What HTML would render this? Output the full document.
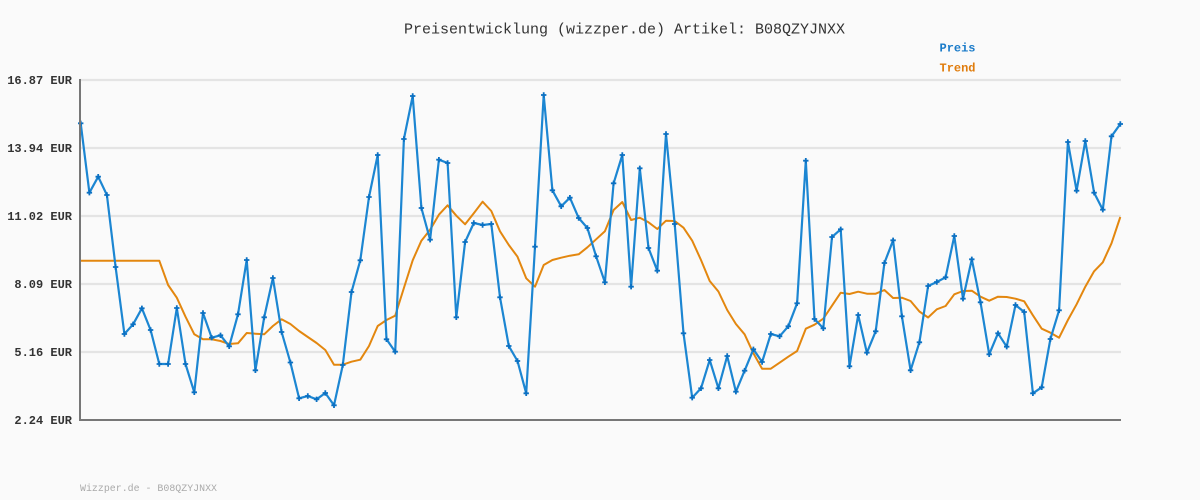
<!DOCTYPE html>
<html><head><meta charset="utf-8"><style>
html,body{margin:0;padding:0;background:#fafafa;}
svg{display:block;}
</style></head><body>
<svg width="1200" height="500" viewBox="0 0 1200 500" xmlns="http://www.w3.org/2000/svg">
<defs>
<marker id="m" markerUnits="userSpaceOnUse" markerWidth="8" markerHeight="8" refX="4" refY="4" viewBox="0 0 8 8">
<path d="M1.3,4 L6.7,4 M4,1.3 L4,6.7" stroke="#0b70c2" stroke-width="1.8" fill="none"/>
</marker>
</defs>
<rect width="1200" height="500" fill="#fafafa"/>
<g stroke="#e4e4e4" stroke-width="2.2">
<line x1="80" y1="80" x2="1121" y2="80"/>
<line x1="80" y1="148" x2="1121" y2="148"/>
<line x1="80" y1="216" x2="1121" y2="216"/>
<line x1="80" y1="284" x2="1121" y2="284"/>
<line x1="80" y1="352" x2="1121" y2="352"/>
</g>
<g font-family="Liberation Mono, monospace" font-weight="bold" font-size="12" fill="#333" text-anchor="end">
<text x="72" y="84">16.87 EUR</text>
<text x="72" y="152">13.94 EUR</text>
<text x="72" y="220">11.02 EUR</text>
<text x="72" y="288">8.09 EUR</text>
<text x="72" y="356">5.16 EUR</text>
<text x="72" y="424">2.24 EUR</text>
</g>
<text x="404" y="33.3" font-family="Liberation Mono, monospace" font-size="14.7" fill="#333" textLength="441" lengthAdjust="spacingAndGlyphs">Preisentwicklung (wizzper.de) Artikel: B08QZYJNXX</text>
<text x="939.5" y="51.3" font-family="Liberation Mono, monospace" font-weight="bold" font-size="12" fill="#1a7bc9">Preis</text>
<text x="939.5" y="71.3" font-family="Liberation Mono, monospace" font-weight="bold" font-size="12" fill="#e07c0c">Trend</text>
<text x="80" y="491" font-family="Liberation Mono, monospace" font-size="10" fill="#aaa" textLength="137" lengthAdjust="spacingAndGlyphs">Wizzper.de - B08QZYJNXX</text>

<polyline fill="none" stroke="#e3870f" stroke-width="2" stroke-linejoin="round" points="80.7,260.7 89.4,260.7 98.2,260.7 106.9,260.7 115.6,260.7 124.4,260.7 133.1,260.7 141.9,260.7 150.6,260.7 159.3,260.7 168.1,285 176.8,297.7 185.5,316.7 194.3,334.3 203,339.3 211.7,339.3 220.5,341 229.2,344 238,343.3 246.7,333 255.4,333.7 264.2,334.3 272.9,326 281.6,319.3 290.4,324 299.1,331 307.8,337 316.6,343 325.3,350 334,364.7 342.8,364.7 351.5,361.7 360.3,359.7 369,346 377.7,326 386.5,320 395.2,315.7 403.9,288 412.7,260.3 421.4,240.7 430.1,229.7 438.9,214.7 447.6,205.3 456.3,215.7 465.1,224.3 473.8,213.3 482.6,201.7 491.3,211 500,231.3 508.8,245 517.5,256.7 526.2,278.3 535,286.7 543.7,265 552.4,260 561.2,257.7 569.9,255.7 578.7,254.3 587.4,247.3 596.1,239.3 604.9,231.3 613.6,210 622.3,202 631.1,220 639.8,217.7 648.5,222.3 657.3,229 666,220.7 674.7,221 683.5,227.7 692.2,240.7 701,260 709.7,281 718.4,291.5 727.2,310 735.9,324 744.6,334.3 753.4,353.3 762.1,368.7 770.8,368.7 779.6,362.7 788.3,356.7 797.1,351 805.8,328.7 814.5,324.7 823.3,318.7 832,305.7 840.7,292.7 849.5,294 858.2,291.7 866.9,293.7 875.7,293.7 884.4,290 893.1,298 901.9,297.7 910.6,301 919.4,311.5 928.1,317.5 936.8,309.3 945.6,306 954.3,294.3 963,291 971.8,290.7 980.5,296.7 989.2,300.7 998,296.7 1006.7,297 1015.5,298.7 1024.2,301.3 1032.9,315.3 1041.7,328.7 1050.4,332.7 1059.1,337.7 1067.9,320 1076.6,304.3 1085.3,286.7 1094.1,271.3 1102.8,262.3 1111.5,243.3 1120.3,217"/>

<polyline fill="none" stroke="#1c86d2" stroke-width="2.2" stroke-linejoin="round" marker-start="url(#m)" marker-mid="url(#m)" marker-end="url(#m)" points="80.7,123.3 89.4,192.7 98.2,176.7 106.9,195 115.6,267 124.4,334 133.1,324.3 141.9,308.3 150.6,330 159.3,364 168.1,364 176.8,308 185.5,364 194.3,392.3 203,313 211.7,337.7 220.5,335.3 229.2,346.3 238,314.3 246.7,260 255.4,370.3 264.2,317.3 272.9,278 281.6,332 290.4,362.5 299.1,398.3 307.8,396 316.6,399.3 325.3,393 334,405.3 342.8,365 351.5,292 360.3,260.3 369,197 377.7,155 386.5,339.3 395.2,351.7 403.9,139 412.7,96 421.4,208 430.1,239.7 438.9,159.7 447.6,163 456.3,317.3 465.1,242 473.8,223 482.6,225 491.3,224 500,297.3 508.8,346 517.5,361 526.2,393.3 535,246.7 543.7,95 552.4,190.3 561.2,206.3 569.9,197.7 578.7,218 587.4,228 596.1,256.3 604.9,282.3 613.6,183.3 622.3,155 631.1,286.7 639.8,168.3 648.5,248 657.3,270.7 666,134 674.7,224 683.5,333.3 692.2,397.7 701,388.3 709.7,360 718.4,388.3 727.2,356 735.9,391.7 744.6,370.7 753.4,349.3 762.1,362 770.8,334 779.6,336.3 788.3,326.3 797.1,303.3 805.8,160.7 814.5,319 823.3,328.3 832,237 840.7,229.3 849.5,366.3 858.2,315 866.9,352.7 875.7,331.3 884.4,263 893.1,240.3 901.9,316.3 910.6,370.3 919.4,342.3 928.1,286 936.8,282 945.6,277.3 954.3,236 963,298.7 971.8,259.3 980.5,302.3 989.2,354.3 998,333.3 1006.7,346.7 1015.5,305 1024.2,312 1032.9,393.3 1041.7,387.3 1050.4,339 1059.1,310.3 1067.9,142 1076.6,190.7 1085.3,141 1094.1,192.7 1102.8,209.7 1111.5,136.3 1120.3,124"/>

<g stroke="#777" stroke-width="2" fill="none">
<line x1="80" y1="79" x2="80" y2="420"/>
<line x1="79" y1="420" x2="1121" y2="420"/>
</g>
</svg>
</body></html>
